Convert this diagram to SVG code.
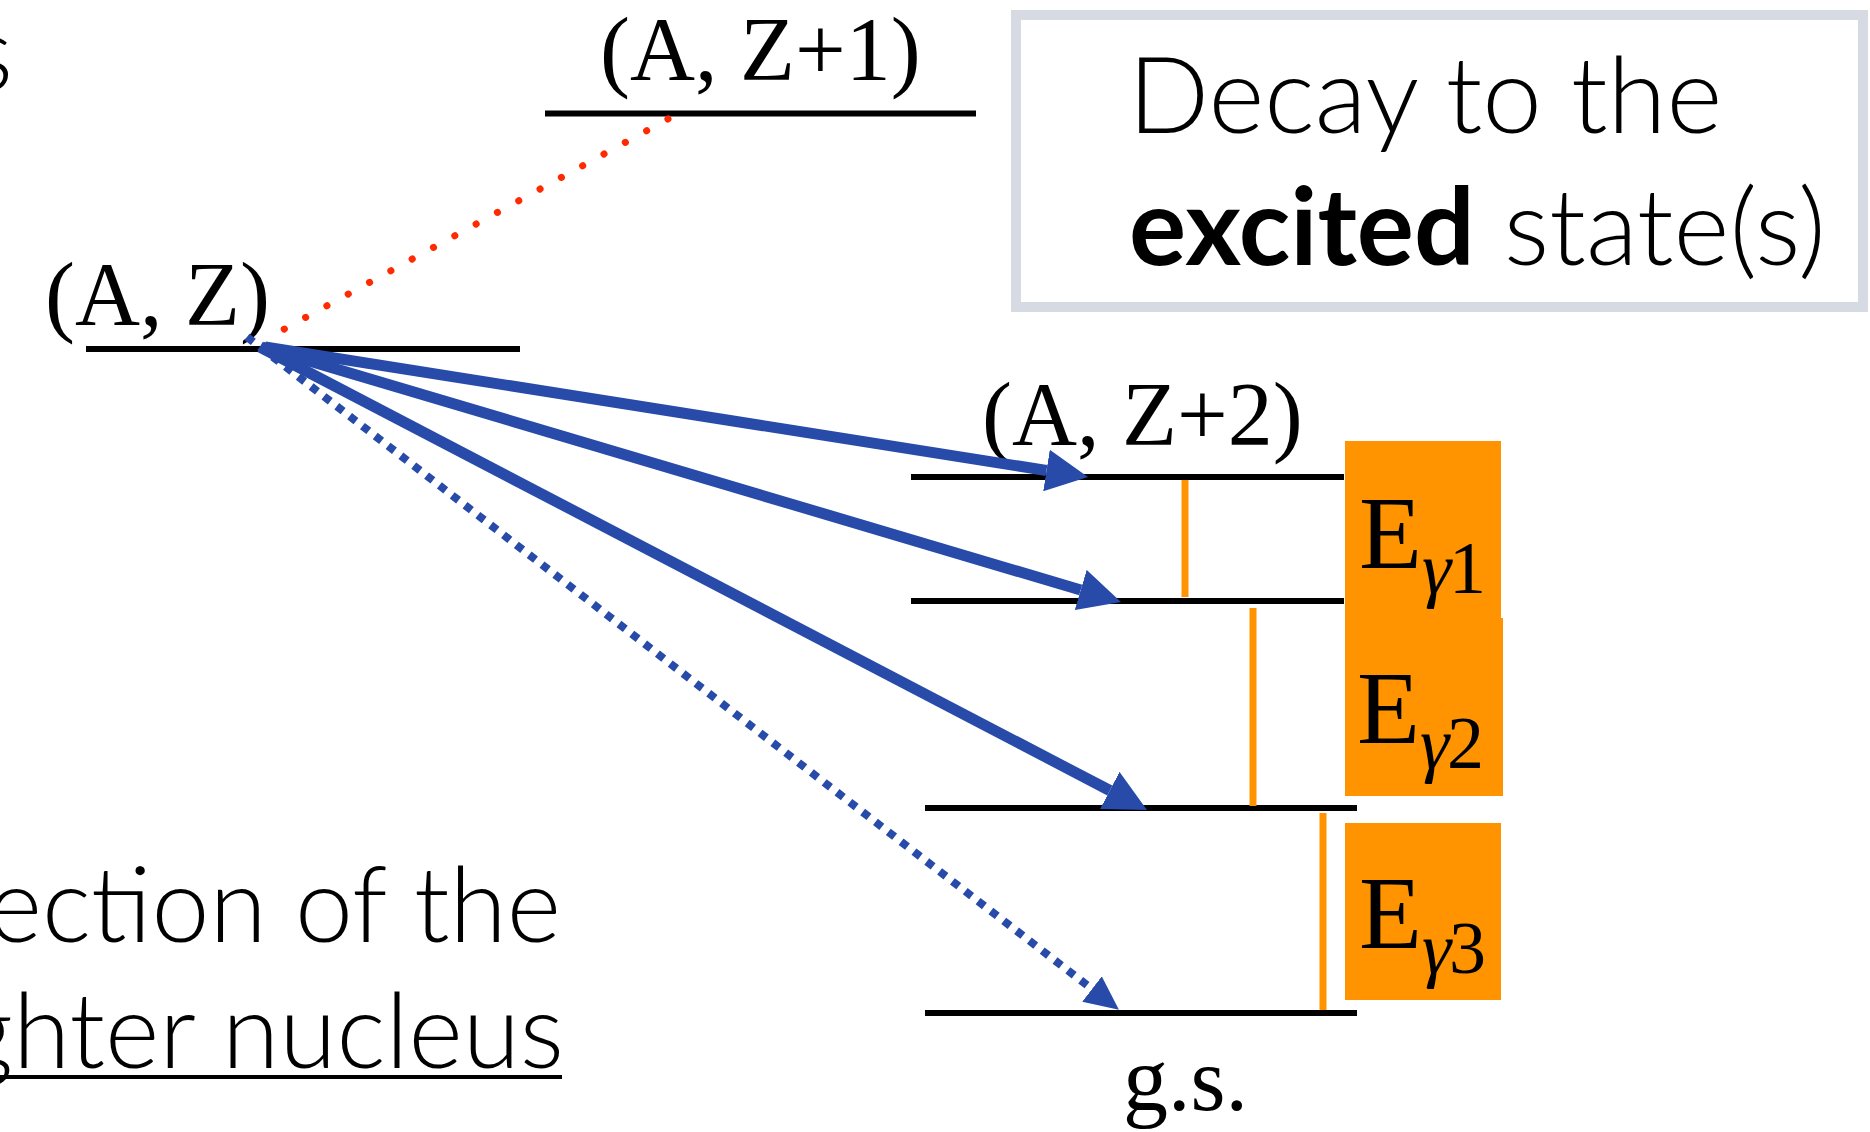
<svg xmlns="http://www.w3.org/2000/svg" width="1870" height="1132" viewBox="0 0 1870 1132">
<style>
.lvl{stroke:#000;stroke-width:6;fill:none}
.serif{font-family:"Liberation Serif","Times New Roman",serif;fill:#000}
.lab{font-size:90px}
.sans{font-family:Lato,"Open Sans",sans-serif;font-weight:300;fill:#000}
.arr{stroke:#284BAA;stroke-width:11;fill:none}
.dot{stroke:#284BAA;stroke-width:8;stroke-dasharray:8 8.2;fill:none}
.red{stroke:#FF2A00;stroke-width:7;stroke-linecap:round;stroke-dasharray:0.1 24.2;fill:none}
.gam{stroke:#FF9400;stroke-width:7;fill:none}
.obox{fill:#FF9400}
.E{font-size:103px}
.sub{font-size:74px}
</style>
<defs>
<marker id="ah" markerUnits="userSpaceOnUse" markerWidth="42" markerHeight="42" viewBox="0 0 42 42" refX="0" refY="21" orient="auto"><path d="M0,0 L42,21 L0,42 z" fill="#284BAA"/></marker>
<marker id="ahs" markerUnits="userSpaceOnUse" markerWidth="34" markerHeight="32" viewBox="0 0 34 32" refX="0" refY="16" orient="auto"><path d="M0,0 L34,16 L0,32 z" fill="#284BAA"/></marker>
</defs>
<rect width="1870" height="1132" fill="#fff"/>

<g id="left-text">
<text class="sans" x="13" y="90" font-size="104" text-anchor="end">s</text>
<text class="sans" x="561" y="942" font-size="104" text-anchor="end">ection of the</text>
<text class="sans" x="564" y="1068" font-size="104" text-anchor="end">ghter nucleus</text>
<line x1="0" y1="1077" x2="562" y2="1077" stroke="#000" stroke-width="4"/>
</g>

<g id="note-box">
<rect x="1016" y="15" width="847" height="292" fill="#fff" stroke="#D6DAE2" stroke-width="10"/>
<text class="sans" x="1128" y="133" font-size="107">Decay to the</text>
<text class="sans" x="1129" y="265" font-size="107"><tspan font-weight="700">excited</tspan> state(s)</text>
</g>

<g id="level-AZ1">
<line class="lvl" x1="545" y1="113.5" x2="976" y2="113.5" stroke-width="7"/>
<text class="serif lab" x="600" y="80">(A, Z+1)</text>
</g>

<g id="level-AZ">
<line class="lvl" x1="86" y1="349" x2="520" y2="349"/>
<text class="serif lab" x="45" y="325">(A, Z)</text>
</g>

<g id="level-AZ2-3">
<line class="lvl" x1="911" y1="477" x2="1344" y2="477"/>
<text class="serif lab" x="982" y="445">(A, Z+2)</text>
</g>
<g id="level-AZ2-2">
<line class="lvl" x1="911" y1="601" x2="1344" y2="601"/>
</g>
<g id="level-AZ2-1">
<line class="lvl" x1="925" y1="808" x2="1357" y2="808"/>
</g>
<g id="level-gs">
<line class="lvl" x1="925" y1="1013" x2="1357" y2="1013"/>
<text class="serif lab" x="1123" y="1110">g.s.</text>
</g>

<g id="egamma1">
<rect class="obox" x="1345" y="441" width="156" height="179"/>
<text class="serif E" x="1359" y="568">E<tspan class="sub" font-style="italic" dy="25">γ</tspan><tspan class="sub" dx="-2">1</tspan></text>
</g>
<g id="egamma2">
<rect class="obox" x="1345" y="618" width="158" height="178"/>
<text class="serif E" x="1357" y="743">E<tspan class="sub" font-style="italic" dy="25">γ</tspan><tspan class="sub" dx="-2">2</tspan></text>
</g>
<g id="egamma3">
<rect class="obox" x="1345" y="823" width="156" height="177"/>
<text class="serif E" x="1359" y="948">E<tspan class="sub" font-style="italic" dy="25">γ</tspan><tspan class="sub" dx="-2">3</tspan></text>
</g>

<g id="connectors">
<line class="red" x1="668" y1="119" x2="268" y2="338"/>
<line class="dot" x1="247" y1="337" x2="1092" y2="989" marker-end="url(#ahs)"/>
<line class="arr" x1="265" y1="347" x2="1046.5" y2="470.5" marker-end="url(#ah)"/>
<line class="arr" x1="262" y1="347" x2="1080.7" y2="590" marker-end="url(#ah)"/>
<line class="arr" x1="260" y1="347" x2="1109.8" y2="790.5" marker-end="url(#ah)"/>
<line class="gam" x1="1185" y1="480" x2="1185" y2="597"/>
<line class="gam" x1="1253" y1="608" x2="1253" y2="806"/>
<line class="gam" x1="1323" y1="813" x2="1323" y2="1010"/>
</g>
</svg>
